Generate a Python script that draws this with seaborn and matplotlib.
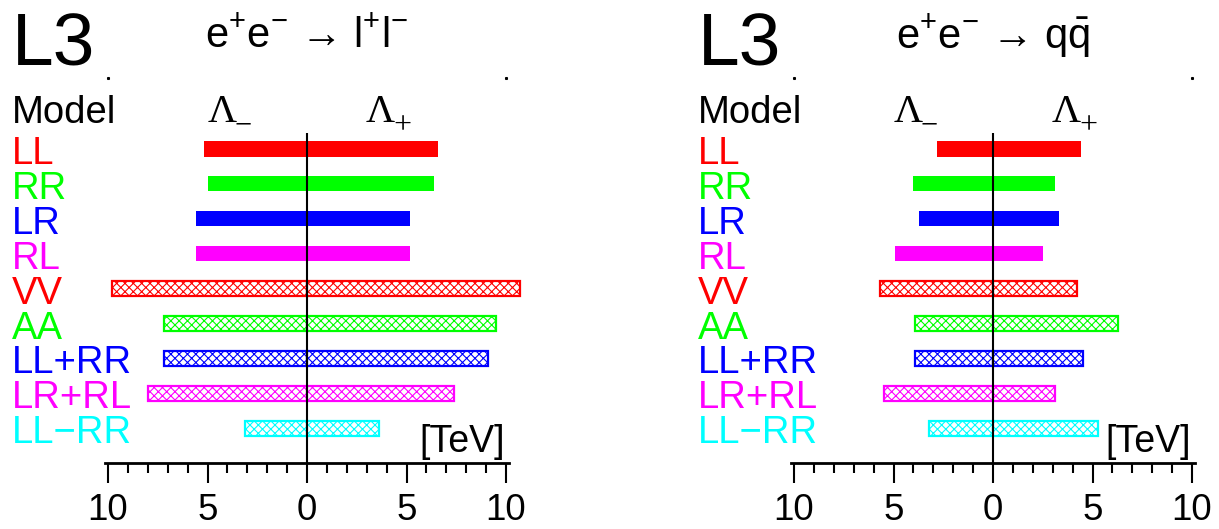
import numpy as np
import pandas as pd
import matplotlib
matplotlib.use("Agg")
import matplotlib.pyplot as plt
from matplotlib.ticker import FixedLocator, FuncFormatter
import seaborn as sns

# ---------------- data ----------------
models = ["LL", "RR", "LR", "RL", "VV", "AA", "LL+RR", "LR+RL", "LL\u2212RR"]
model_colors = ["#ff0000", "#00ff00", "#0000ff", "#ff00ff",
                "#ff0000", "#00ff00", "#0000ff", "#ff00ff", "#00ffff"]
hatched_models = ["VV", "AA", "LL+RR", "LR+RL", "LL\u2212RR"]

# lower limits on Lambda (TeV), e+e- -> l+l-
lep_lambda_minus = [5.2, 5.0, 5.6, 5.6, 9.8, 7.2, 7.2, 8.0, 3.1]
lep_lambda_plus = [6.6, 6.4, 5.2, 5.2, 10.7, 9.5, 9.1, 7.4, 3.6]
# lower limits on Lambda (TeV), e+e- -> q qbar
had_lambda_minus = [2.8, 4.0, 3.7, 4.9, 5.7, 3.9, 3.9, 5.5, 3.2]
had_lambda_plus = [4.4, 3.1, 3.3, 2.5, 4.2, 6.3, 4.5, 3.1, 5.3]

ARROW = "\u2192"
titles = [r"$\mathrm{e^{+}e^{-}}$ " + ARROW + r" $\mathrm{l^{+}l^{-}}$",
          r"$\mathrm{e^{+}e^{-}}$ " + ARROW + r" $\mathrm{q\bar{q}}$"]
major_ticks = [-10, -5, 0, 5, 10]
minor_ticks = list(range(-10, 11))

# ---------------- style ----------------
sns.set_style("white")
plt.rcParams["font.family"] = ["Liberation Sans", "DejaVu Sans"]
plt.rcParams["mathtext.fontset"] = "custom"
plt.rcParams["mathtext.rm"] = "Liberation Sans"
plt.rcParams["mathtext.it"] = "Liberation Sans:italic"
plt.rcParams["hatch.linewidth"] = 0.8

W, H = 1219, 529
fig = plt.figure(figsize=(W / 100, H / 100), dpi=100)
fig.patch.set_facecolor("white")

px_per_tev = 19.9
panels = [
    dict(x0=0, x1=609, zero=307, minus=lep_lambda_minus, plus=lep_lambda_plus, title=titles[0]),
    dict(x0=609, x1=W, zero=993, minus=had_lambda_minus, plus=had_lambda_plus, title=titles[1]),
]

row0_px, row_step_px = 149.0, 34.9
ylim_top = (0 - row0_px) / row_step_px
ylim_bot = (H - row0_px) / row_step_px


def row(px):
    return (px - row0_px) / row_step_px


palette = dict(zip(models, model_colors))

for pn in panels:
    ax = fig.add_axes([pn["x0"] / W, 0, (pn["x1"] - pn["x0"]) / W, 1])
    ax.set_facecolor("none")
    df = pd.DataFrame({"model": models,
                       "neg": -np.asarray(pn["minus"]),
                       "pos": np.asarray(pn["plus"])})
    for col in ["neg", "pos"]:
        sns.barplot(data=df, x=col, y="model", hue="model", palette=palette,
                    order=models, hue_order=models, orient="h", width=0.43,
                    saturation=1, legend=False, linewidth=0, ax=ax)
    # style bars (hatched for composite models)
    for p in ax.patches:
        r = int(round(p.get_y() + p.get_height() / 2))
        m = models[r]
        c = model_colors[r]
        if m in hatched_models:
            p.set_facecolor("white")
            p.set_edgecolor(c)
            p.set_hatch("xxxx")
            p.set_linewidth(1.6)
        else:
            p.set_facecolor(c)
            p.set_edgecolor(c)
            p.set_linewidth(0)

    xl = (pn["x0"] - pn["zero"]) / px_per_tev
    xr = (pn["x1"] - pn["zero"]) / px_per_tev
    ax.set_xlim(xl, xr)
    ax.set_ylim(ylim_bot, ylim_top)

    # axis: bottom spine
    axis_row = row(463)
    for s in ["left", "right", "top"]:
        ax.spines[s].set_visible(False)
    ax.spines["bottom"].set_position(("data", axis_row))
    ax.spines["bottom"].set_bounds(-10.15, 10.15)
    ax.spines["bottom"].set_linewidth(2.0)
    ax.spines["bottom"].set_color("black")
    ax.set_yticks([])
    ax.set_ylabel("")
    ax.set_xlabel("")
    ax.xaxis.set_major_locator(FixedLocator(major_ticks))
    ax.xaxis.set_minor_locator(FixedLocator(minor_ticks))
    ax.xaxis.set_major_formatter(FuncFormatter(lambda v, pos: f"{abs(v):g}"))
    ax.tick_params(axis="x", which="major", direction="out", length=14.4, width=1.5,
                   labelsize=26.5, pad=7, color="black", labelcolor="black", bottom=True)
    ax.tick_params(axis="x", which="minor", direction="out", length=7.2, width=1.5,
                   color="black", bottom=True)

    # vertical zero line
    ax.vlines(0, row(133), axis_row, color="black", lw=1.5, zorder=5)

    # frame corner dots
    ax.plot([-10, 10], [row(78)] * 2, ls="none", marker="s", ms=1.2, color="black")

    # texts
    ax.text(-14.85, row(65), "L3", fontsize=54, ha="left", va="baseline", color="black")
    ax.text(0, row(48), pn["title"], fontsize=30, ha="center", va="baseline", color="black")
    ax.text(-14.85, row(123), "Model", fontsize=27.5, ha="left", va="baseline", color="black")
    # Lambda_- and Lambda_+ (serif)
    ax.text(-5.0, row(122), "\u039b", fontsize=29, ha="left", va="baseline",
            color="black", family=["Liberation Serif", "DejaVu Serif"])
    ax.text(-3.65, row(133), "\u2212", fontsize=22, ha="left", va="baseline",
            color="black", family=["Liberation Serif", "DejaVu Serif"])
    ax.text(2.95, row(122), "\u039b", fontsize=29, ha="left", va="baseline",
            color="black", family=["Liberation Serif", "DejaVu Serif"])
    ax.text(4.35, row(133), "+", fontsize=23, ha="left", va="baseline",
            color="black", family=["Liberation Serif", "DejaVu Serif"])
    for i, (m, c) in enumerate(zip(models, model_colors)):
        ax.text(-14.85, i + 0.43, m, fontsize=27.5, ha="left", va="baseline", color=c)
    ax.text(9.95, row(452), "[TeV]", fontsize=27, ha="right", va="baseline", color="black")

fig.savefig("out.png", dpi=100, facecolor="white")
